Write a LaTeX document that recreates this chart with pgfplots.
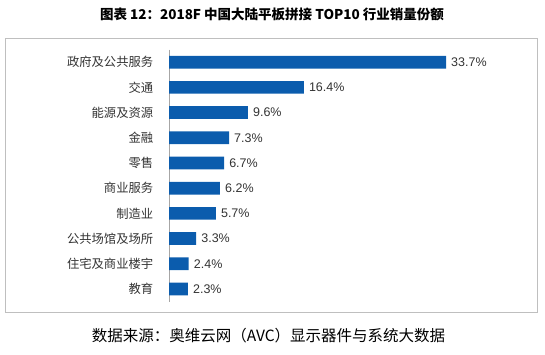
\documentclass[border=0pt]{standalone}
\usepackage{pgfplots}
\pgfplotsset{compat=1.18}
\usepackage{fontspec}
\setmainfont{Liberation Sans}
\newfontfamily\cjk{Noto Sans CJK SC}
\definecolor{barblue}{HTML}{0B5CAD}
\definecolor{framegray}{HTML}{BFBFBF}
\definecolor{axisgray}{HTML}{A6A6A6}
\definecolor{txt}{HTML}{333333}
\begin{document}
\begin{tikzpicture}[x=1pt,y=1pt]
\useasboundingbox (0,0) rectangle (545,355);
\draw[color=framegray, line width=0.8pt] (5,43) rectangle (537,317);
\node[font=\cjk\bfseries\fontsize{13.5}{15}\selectfont, text=black] at (272,341) {图表 12：2018F 中国大陆平板拼接 TOP10 行业销量份额};
\node[font=\cjk\fontsize{15.5}{17}\selectfont, text=black] at (268.5,19) {数据来源：奥维云网（AVC）显示器件与系统大数据};
\begin{axis}[
  at={(169pt,53.4pt)}, anchor=south west,
  scale only axis, width=328.8pt, height=252pt,
  xbar, bar width=12.7pt,
  xmin=0, xmax=40, ymin=-0.5, ymax=9.5, y dir=reverse,
  hide x axis,
  axis y line*=left,
  y axis line style={color=axisgray, line width=0.6pt, -},
  ytick={0,1,2,3,4,5,6,7,8,9},
  yticklabels={政府及公共服务,交通,能源及资源,金融,零售,商业服务,制造业,公共场馆及场所,住宅及商业楼宇,教育},
  ytick style={draw=none},
  yticklabel style={font=\cjk\fontsize{12.3}{14}\selectfont, text=txt, xshift=-8pt},
  /pgf/number format/assume math mode=true,
  nodes near coords={\pgfmathprintnumber[fixed,precision=1,fixed zerofill,assume math mode=true]{\pgfplotspointmeta}\%},
  nodes near coords style={font=\fontsize{12.5}{14}\selectfont, text=txt, anchor=west, inner sep=0pt, xshift=5pt},
  clip=false,
]
\addplot[fill=barblue, draw=none] coordinates {
(33.7,0) (16.4,1) (9.6,2) (7.3,3) (6.7,4) (6.2,5) (5.7,6) (3.3,7) (2.4,8) (2.3,9)
};
\end{axis}
\end{tikzpicture}
\end{document}
